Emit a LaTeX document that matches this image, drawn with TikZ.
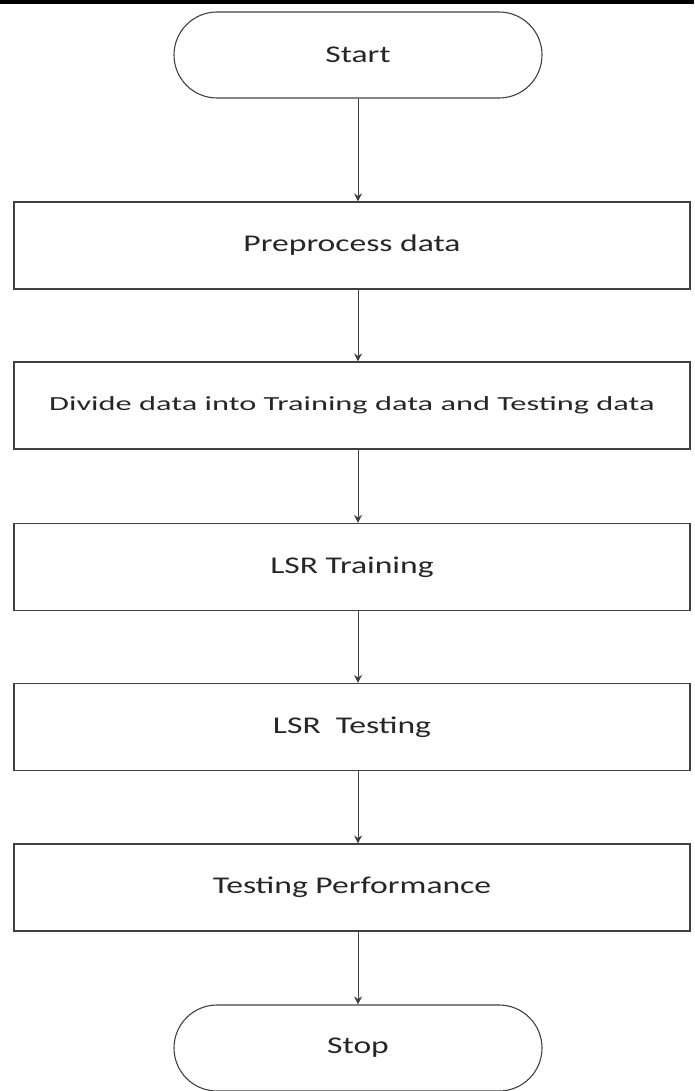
\documentclass[tikz,border=0pt]{standalone}
\usepackage{fontspec}
\setmainfont{Carlito}
\usetikzlibrary{shapes.misc,arrows.meta}
\newcommand{\wide}[2][1.4]{\scalebox{#1}[1]{#2}}
\begin{document}
\begin{tikzpicture}[x=1pt,y=-1pt,
  line/.style={draw=black!75, line width=1.1pt},
  txt/.style={text=black!85, font=\fontsize{24}{28}\selectfont},
  term/.style={line, txt, rounded rectangle, minimum width=368pt, minimum height=86pt, inner sep=0pt},
  stepbox/.style={line, txt, rectangle, minimum width=676pt, minimum height=87pt, inner sep=0pt},
  arr/.style={draw=black!75, line width=1pt, -{Stealth[length=8pt,width=8pt]}}]
\useasboundingbox (0,0) rectangle (694,1091);
\fill[black] (0,0) rectangle (694,4);
\node[term] (start) at (358,55) {\wide{Start}};
\node[stepbox] (b1) at (352,245.5) {\wide{Preprocess data}};
\node[stepbox, font=\fontsize{20}{24}\selectfont] (b2) at (352,405.5) {\wide[1.62]{Divide data into Training data and Testing data}};
\node[stepbox] (b3) at (352,567) {\wide{LSR Training}};
\node[stepbox] (b4) at (352,727) {\wide{LSR\ \ Testing}};
\node[stepbox] (b5) at (352,887.5) {\wide{Testing Performance}};
\node[term] (stop) at (358,1048) {\wide{Stop}};
\draw[arr] (start.south) -- (start.south |- b1.north);
\draw[arr] (start.south |- b1.south) -- (start.south |- b2.north);
\draw[arr] (start.south |- b2.south) -- (start.south |- b3.north);
\draw[arr] (start.south |- b3.south) -- (start.south |- b4.north);
\draw[arr] (start.south |- b4.south) -- (start.south |- b5.north);
\draw[arr] (start.south |- b5.south) -- (stop.north);
\end{tikzpicture}
\end{document}
